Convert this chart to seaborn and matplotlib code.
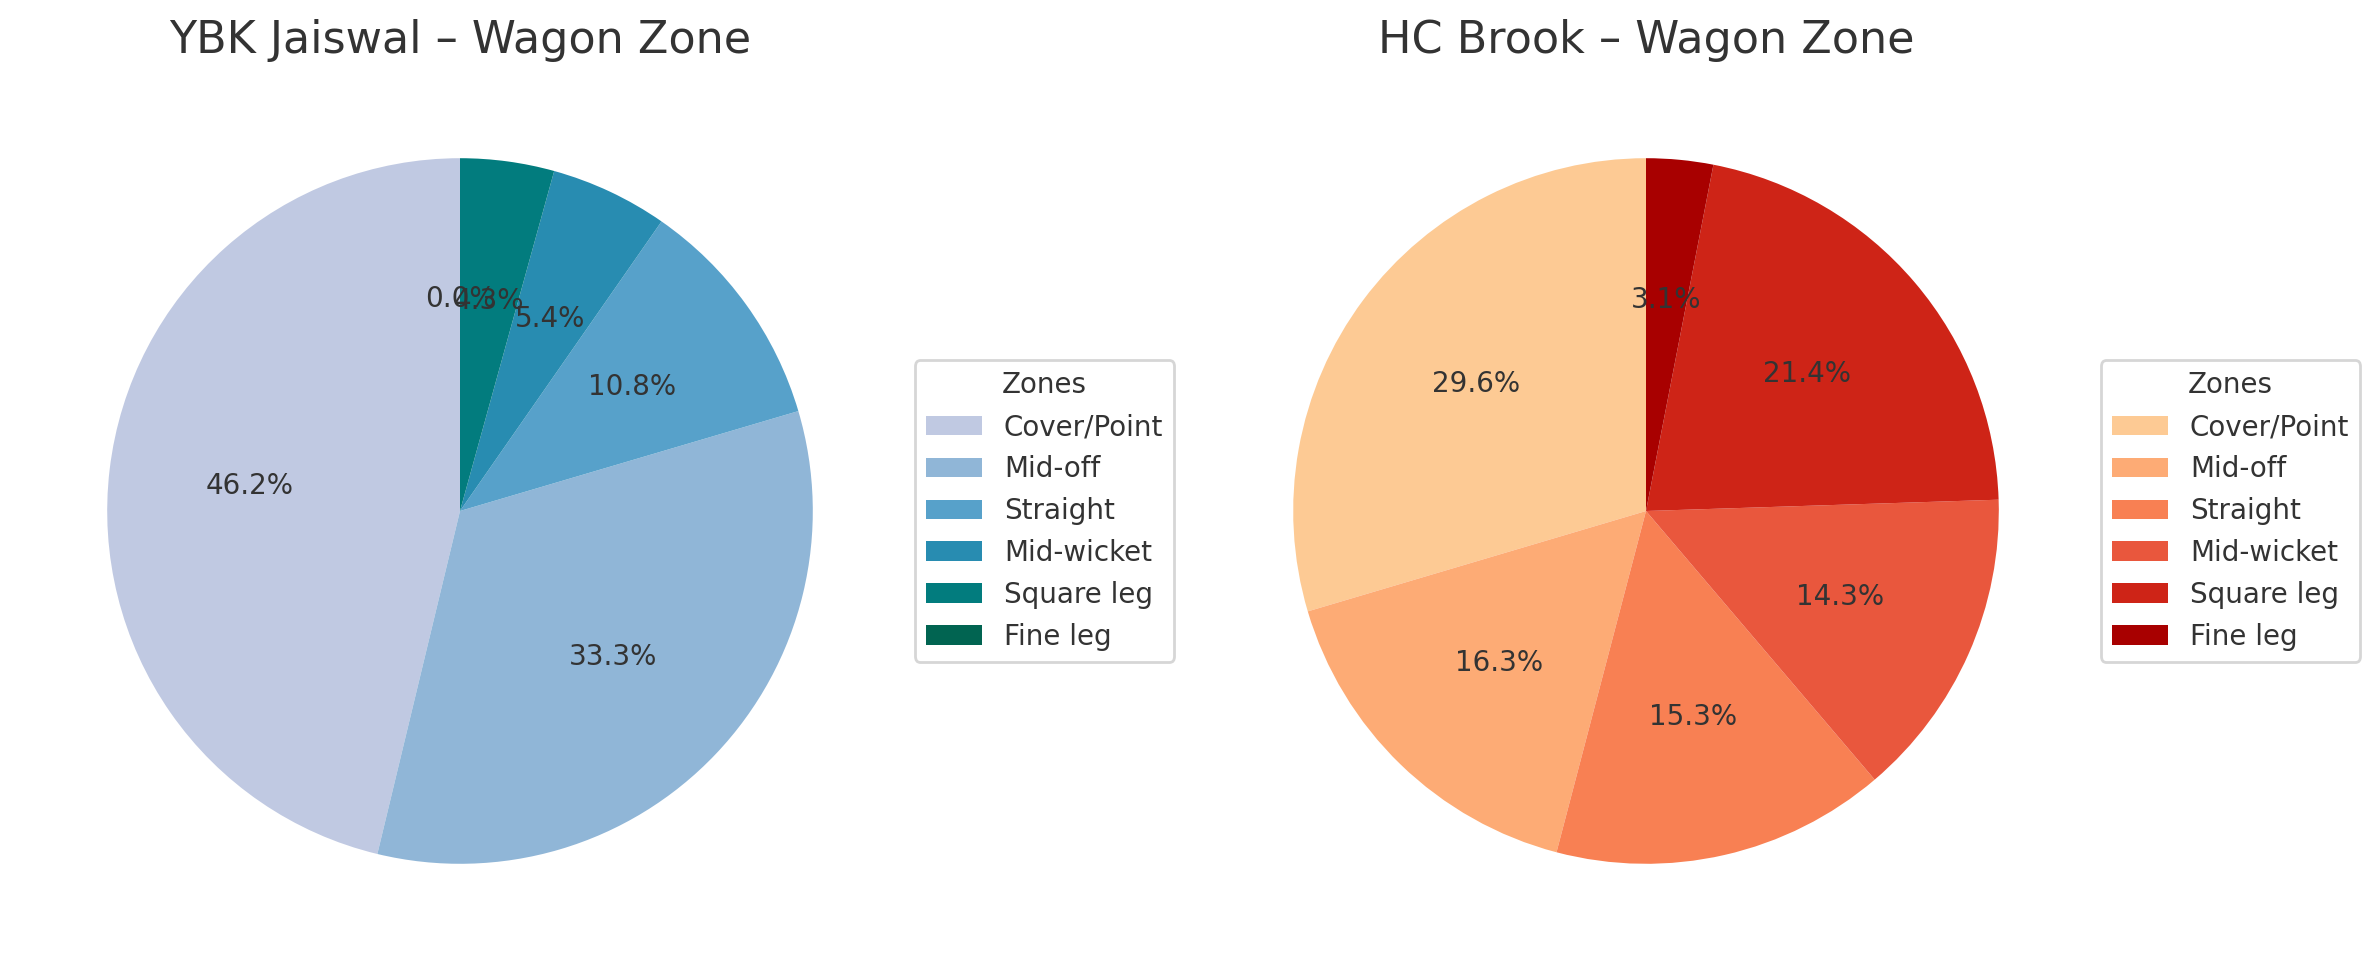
import numpy as np
import matplotlib.pyplot as plt
import seaborn as sns

# wagon zone counts per batter
zones = ["Cover/Point", "Mid-off", "Straight", "Mid-wicket", "Square leg", "Fine leg"]
jaiswal_runs = [43, 31, 10, 5, 4, 0]
brook_runs = [29, 16, 15, 14, 21, 3]

sns.set_style("whitegrid")
plt.rcParams["text.color"] = "0.2"

W, H, DPI = 2379, 972, 200
fig = plt.figure(figsize=(W / DPI, H / DPI), dpi=DPI)

side = 882
panels = [
    ("YBK Jaiswal – Wagon Zone", jaiswal_runs, plt.cm.PuBuGn, 19),
    ("HC Brook – Wagon Zone", brook_runs, plt.cm.OrRd, 1205),
]

for title, runs, cmap, left in panels:
    ax = fig.add_axes([left / W, 20 / H, side / W, side / H])
    colors = cmap(np.linspace(0.3, 0.9, len(zones)))
    wedges, _, _ = ax.pie(runs, colors=colors, autopct="%1.1f%%", startangle=90,
                          wedgeprops=dict(linewidth=0, edgecolor="none"),
                          textprops=dict(color="0.2", fontsize=10))
    ax.set_title(title, fontsize=16, color="0.2")
    leg = ax.legend(wedges, zones, title="Zones", loc="center left",
                    bbox_to_anchor=(1, 0, 0.5, 1))

fig.savefig("out.png", dpi=DPI)
